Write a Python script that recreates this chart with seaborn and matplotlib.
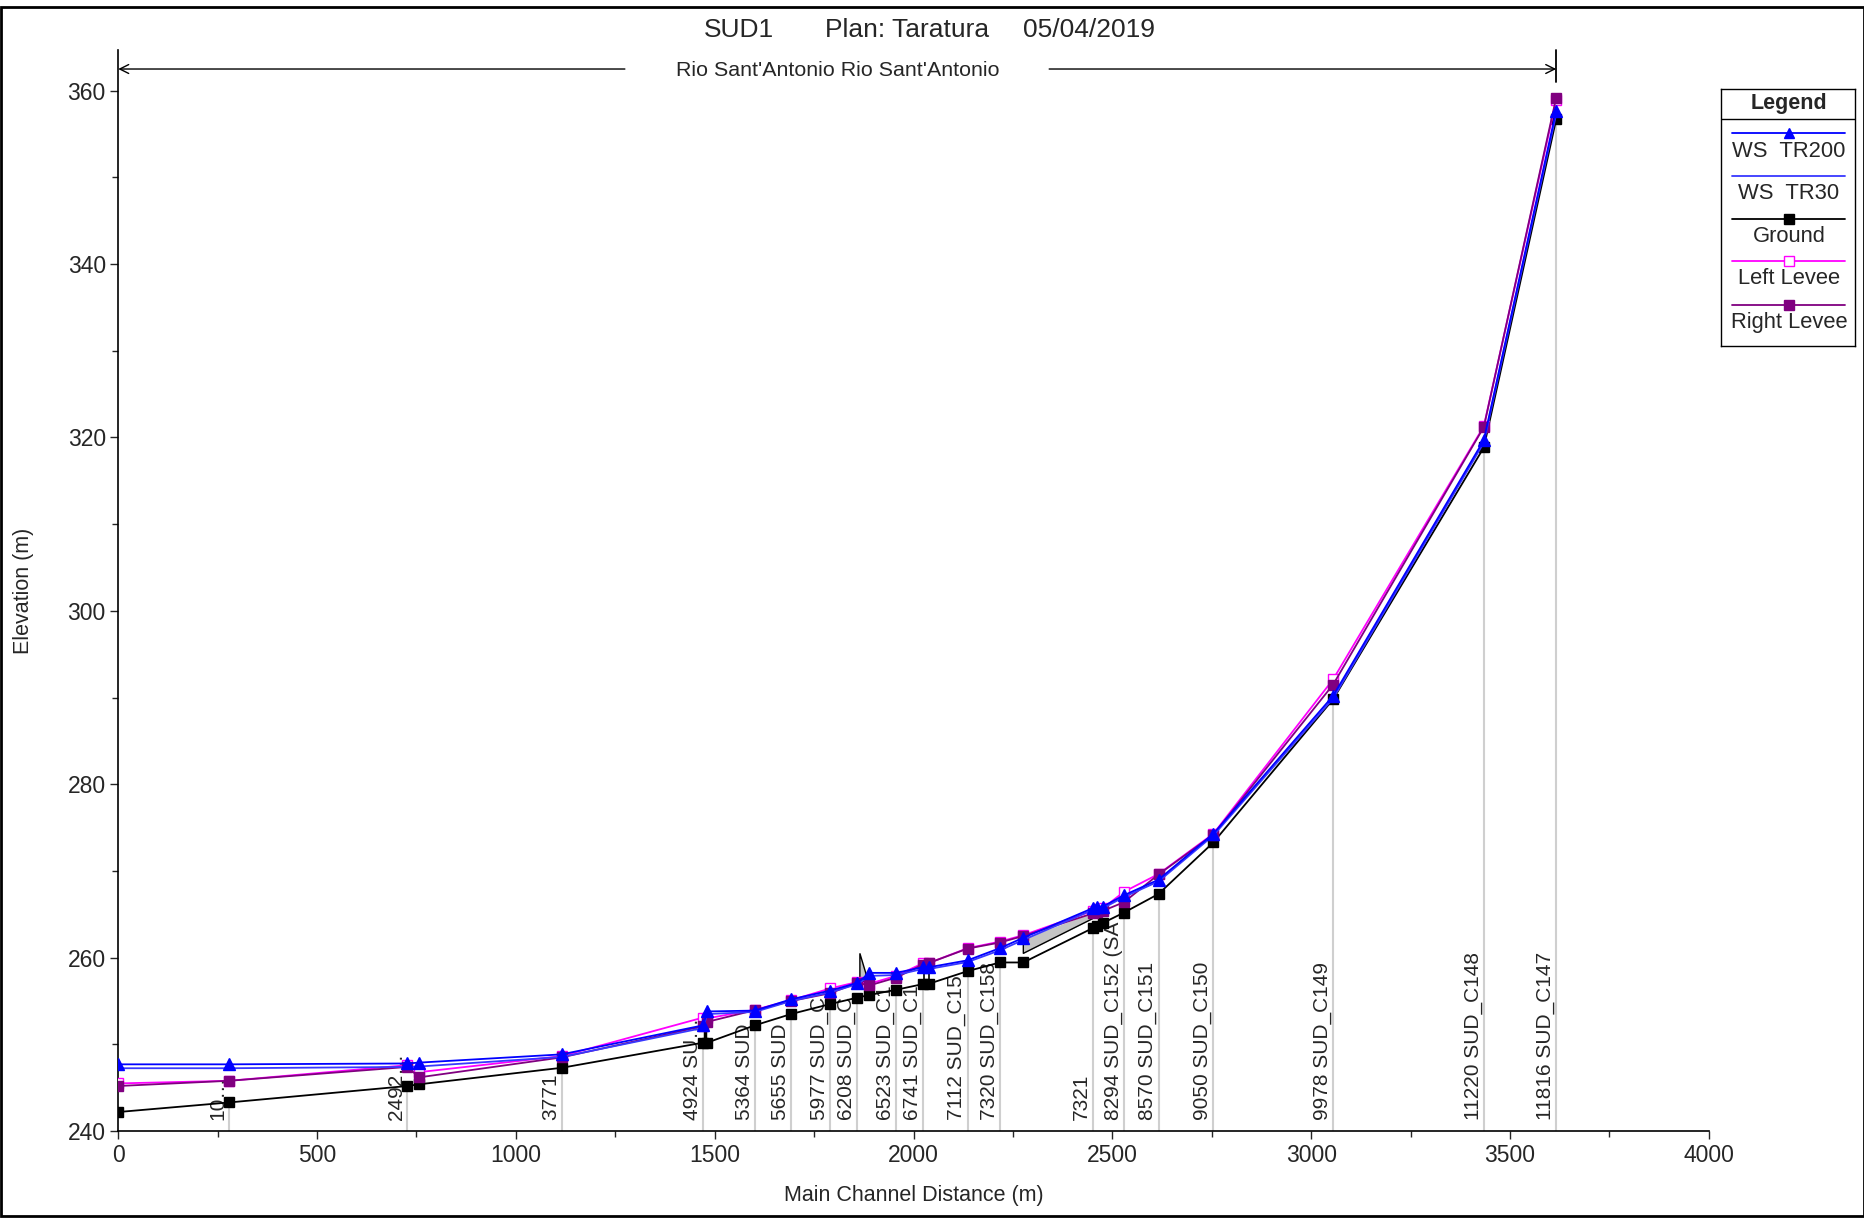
import numpy as np
import matplotlib
matplotlib.use("Agg")
import matplotlib.pyplot as plt
from matplotlib.patches import Rectangle
from matplotlib.ticker import MultipleLocator
import seaborn as sns

# profile values (main channel distance in m, elevation in m)
station = [0, 278, 727, 757, 1115, 1471, 1481, 1601, 1692, 1790, 1859, 1889, 1956,
           2023, 2039, 2136, 2217, 2276, 2450, 2461, 2476, 2529, 2616, 2754, 3055, 3434, 3616]
ground = [242.2, 243.3, 245.2, 245.4, 247.3, 250.2, 250.2, 252.2, 253.5, 254.65, 255.4, 255.7, 256.3,
          256.95, 257.0, 258.45, 259.45, 259.45, 263.4, 263.7, 264.0, 265.2, 267.35, 273.3, 289.8, 318.85, 356.7]
ws_tr200 = [247.7, 247.7, 247.8, 247.9, 248.85, 252.2, 253.8, 253.9, 255.2, 256.2, 257.1, 258.25, 258.25,
            258.9, 258.9, 259.7, 261.1, 262.3, 265.7, 265.8, 265.9, 267.2, 269.0, 274.3, 290.2, 319.7, 357.7]
ws_tr30 = [247.25, 247.25, 247.4, 247.45, 248.55, 251.9, 253.5, 253.75, 255.0, 256.0, 256.95, 257.9, 258.0,
           258.7, 258.7, 259.5, 260.85, 262.05, 265.5, 265.6, 265.7, 267.0, 268.8, 274.1, 289.9, 319.4, 357.3]
left_levee = [245.5, 245.8, 247.6, 246.8, 248.65, 253.1, 253.0, 254.0, 255.1, 256.45, 257.2, 257.0, 257.9,
              259.35, 259.4, 261.1, 261.85, 262.6, 265.4, 265.6, 265.7, 267.6, 269.65, 274.3, 292.1, 321.3, 358.9]
right_levee = [245.2, 245.8, 247.4, 246.2, 248.5, 252.1, 252.6, 253.95, 255.0, 255.9, 257.1, 256.8, 257.7,
               259.2, 259.4, 261.05, 261.75, 262.5, 265.1, 265.3, 265.4, 266.4, 269.6, 274.2, 291.5, 321.2, 359.2]

# labelled cross sections (labels are cut where they reach the ground line)
xs_station = [278, 727, 1115, 1471, 1601, 1692, 1790, 1859, 1956, 2023, 2136, 2217,
              2450, 2529, 2616, 2754, 3055, 3434, 3616]
xs_label = ["10\u2026", "2492\u2026", "3771", "4924 SU\u2026", "5364 SUD", "5655 SUD", "5977 SUD_C",
            "6208 SUD_C", "6523 SUD_C1", "6741 SUD_C1", "7112 SUD_C15", "7320 SUD_C158", "7321",
            "8294 SUD_C152 (SA", "8570 SUD_C151", "9050 SUD_C150", "9978 SUD_C149",
            "11220 SUD_C148", "11816 SUD_C147"]

# ineffective / structure areas
fill_x = [2276, 2450]
fill_low = [260.5, 264.5]
fill_high = [262.2, 265.2]
weir_x = [1865, 1865, 1880, 1880]
weir_y = [256.8, 260.5, 258.2, 257.5]

sns.set_style("ticks")
plt.rcParams["font.family"] = ["Liberation Sans", "DejaVu Sans"]

fig = plt.figure(figsize=(18.65, 12.24), dpi=100)
ax = fig.add_axes([0.0634, 0.0759, 0.8529, 0.8833])

# grey station lines
xs_top = np.interp(xs_station, station, ground)
ax.vlines(xs_station, 240, xs_top, colors="#cfcfcf", lw=1.5, zorder=0.5)

# structures
ax.fill_between(fill_x, fill_low, fill_high, color="#c4c4c4", lw=0, zorder=1)
ax.plot([fill_x[0], fill_x[0], fill_x[1]], [fill_high[0], fill_low[0], fill_low[1]],
        color="black", lw=1, zorder=1.1)
ax.fill(weir_x, weir_y, facecolor="#c4c4c4", edgecolor="black", lw=1, zorder=1.1)
ax.plot([1476, 1476], [250.2, 252.1], color="black", lw=2.5, zorder=1.1)
ax.plot([2026, 2026], [257.0, 258.8], color="black", lw=1.2, zorder=1.1)
ax.plot([2039, 2039], [257.0, 258.8], color="black", lw=1.2, zorder=1.1)

series = [
    ("Ground", ground, dict(color="black", marker="s", markersize=7.5,
                            markerfacecolor="black", markeredgecolor="black")),
    ("Left Levee", left_levee, dict(color="#ff00ff", marker="s", markersize=7.5,
                                    markerfacecolor="white", markeredgecolor="#ff00ff")),
    ("Right Levee", right_levee, dict(color="#800080", marker="s", markersize=7.5,
                                      markerfacecolor="#800080", markeredgecolor="#800080")),
    ("WS  TR30", ws_tr30, dict(color="#3838ff")),
    ("WS  TR200", ws_tr200, dict(color="#0000ff", marker="^", markersize=8.5,
                                 markerfacecolor="#0000ff", markeredgecolor="#0000ff")),
]
for i, (name, vals, kws) in enumerate(series):
    sns.lineplot(x=station, y=vals, ax=ax, sort=False, estimator=None, legend=False,
                 linewidth=1.3, markeredgewidth=1, zorder=2 + i, **kws)

# station labels
for x, lab in zip(xs_station, xs_label):
    ax.text(x - 3, 241.3, lab, rotation=90, ha="right", va="bottom", fontsize=15, zorder=1.5)

# reach annotation
ax.annotate("", xy=(0, 362.5), xytext=(1274, 362.5), annotation_clip=False,
            arrowprops=dict(arrowstyle="->", color="black", lw=1, shrinkA=0, shrinkB=0, mutation_scale=16))
ax.annotate("", xy=(3616, 362.5), xytext=(2341, 362.5), annotation_clip=False,
            arrowprops=dict(arrowstyle="->", color="black", lw=1, shrinkA=0, shrinkB=0, mutation_scale=16))
ax.text(1809, 362.3, "Rio Sant'Antonio Rio Sant'Antonio", ha="center", va="center", fontsize=15.4)
ax.plot([3616, 3616], [361, 364.7], color="black", lw=1.3, clip_on=False)

ax.set_xlim(0, 4000)
ax.set_ylim(240, 364.7)
ax.xaxis.set_major_locator(MultipleLocator(500))
ax.xaxis.set_minor_locator(MultipleLocator(250))
ax.yaxis.set_major_locator(MultipleLocator(20))
ax.yaxis.set_minor_locator(MultipleLocator(10))
ax.tick_params(which="major", direction="out", length=6, width=1, labelsize=16.5, pad=3)
ax.tick_params(which="minor", direction="out", length=4, width=1)
sns.despine(ax=ax)
for s in ["left", "bottom"]:
    ax.spines[s].set_linewidth(1.2)
    ax.spines[s].set_color("black")

ax.set_xlabel("Main Channel Distance (m)", fontsize=15.5)
ax.set_ylabel("Elevation (m)", fontsize=15.5)
ax.xaxis.set_label_coords(0.5, -0.05)
ax.yaxis.set_label_coords(-0.053, 0.5)

# title pieces
fig.text(0.3775, 0.9755, "SUD1", fontsize=19, va="center", ha="left")
fig.text(0.4424, 0.9755, "Plan: Taratura", fontsize=19, va="center", ha="left")
fig.text(0.5485, 0.9755, "05/04/2019", fontsize=19, va="center", ha="left")

# legend box drawn by hand (line above each name)
lg = fig.add_axes([0.9228, 0.7172, 0.0721, 0.2099])
lg.set_xlim(1447, 1560)
lg.set_ylim(291, 75)
lg.set_xticks([])
lg.set_yticks([])
for s in lg.spines.values():
    s.set_color("black")
    s.set_linewidth(1)
lg.text(1504, 87, "Legend", ha="center", va="center", fontsize=15.5, fontweight="bold")
lg.plot([1447, 1560], [100, 100], color="black", lw=1)
leg_order = [4, 3, 0, 1, 2]
line_y = [112, 148, 184, 219, 256]
for k, ly in zip(leg_order, line_y):
    name, vals, kws = series[k]
    lkws = dict(kws)
    col = lkws.pop("color")
    lkws["markersize"] = 7
    lg.plot([1456, 1551], [ly, ly], color=col, lw=1.3)
    if "marker" in lkws:
        lg.plot([1504], [ly], color=col, ls="none", markeredgewidth=1, **lkws)
    lg.text(1504, ly + 15, name, ha="center", va="center", fontsize=15.8)

# outer frame
fig.add_artist(Rectangle((0.0005, 0.0065), 0.999, 0.988, transform=fig.transFigure,
                         fill=False, edgecolor="black", lw=2))

fig.savefig("out.png", dpi=100)
